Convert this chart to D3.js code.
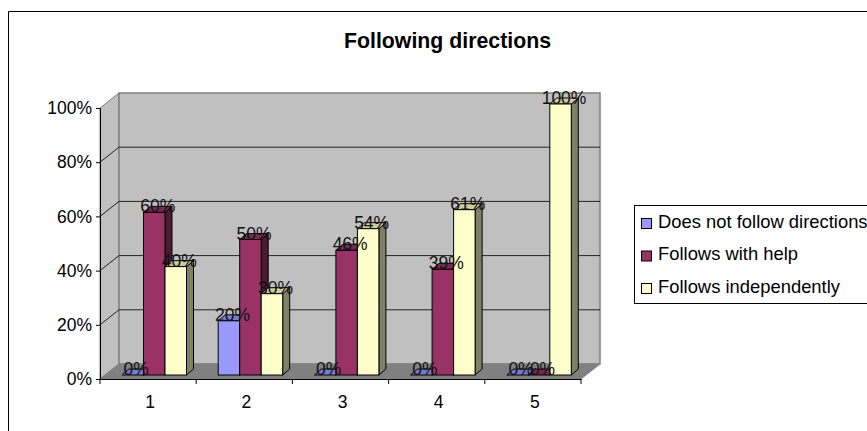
<!DOCTYPE html>
<html>
<head>
<meta charset="utf-8">
<script src="https://cdn.jsdelivr.net/npm/d3@7"></script>
<style>
  html, body { margin: 0; padding: 0; background: #fff; overflow: hidden; }
  svg { display: block; }
  text { font-family: "Liberation Sans", Arial, sans-serif; fill: #000; }
</style>
</head>
<body>
<div id="chart"></div>
<script>
var categories = ['1', '2', '3', '4', '5'];
var seriesNames = ['Does not follow directions', 'Follows with help', 'Follows independently'];
var notFollow = [0, 20, 0, 0, 0];
var withHelp = [60, 50, 46, 39, 0];
var independently = [40, 30, 54, 61, 100];
var yTicks = [0, 20, 40, 60, 80, 100];

var front = ['#9999ff', '#993366', '#ffffcc'];
var topFace = ['#7a7acc', '#7a2952', '#cccca3'];
var sideFace = ['#4d4d80', '#4d1a33', '#808066'];
var series = [notFollow, withHelp, independently];

var width = 867, height = 431;
var wallDx = 19, wallDy = -15;   // depth of the whole box
var barDx = 7, barDy = -6;       // depth of one bar
var inY = -4;                    // how far bars sit back from the floor edge
var barW = 21.5;
var tickFont = '17.5px';

var svg = d3.select('#chart').append('svg')
  .attr('width', width)
  .attr('height', height);

var x = d3.scaleBand().domain(categories).range([100, 581]);
var y = d3.scaleLinear().domain([0, 100]).range([379, 108]);

var poly = function(pts, fill, stroke, sw) {
  return svg.append('polygon')
    .attr('points', pts.map(function(p) { return p.join(','); }).join(' '))
    .attr('fill', fill)
    .attr('stroke', stroke)
    .attr('stroke-width', sw);
};

// outer frame, runs off the right and bottom of the picture
svg.append('path')
  .attr('d', 'M8.5,' + (height + 2) + 'V11.5H' + (width + 2))
  .attr('fill', 'none').attr('stroke', '#000').attr('stroke-width', 1);

// title
svg.append('text')
  .attr('x', 447.5).attr('y', 48)
  .attr('text-anchor', 'middle')
  .style('font-size', '21.3px').style('font-weight', 'bold')
  .text('Following directions');

// walls and floor
var x0 = x.range()[0], x1 = x.range()[1];
var yB = y(0), yT = y(100);
poly([[x0, yB], [x0 + wallDx, yB + wallDy], [x0 + wallDx, yT + wallDy], [x0, yT]], '#c0c0c0', '#808080', 1);
poly([[x0 + wallDx, yB + wallDy], [x1 + wallDx, yB + wallDy], [x1 + wallDx, yT + wallDy], [x0 + wallDx, yT + wallDy]], '#c0c0c0', '#808080', 1.5);
poly([[x0, yB], [x1, yB], [x1 + wallDx, yB + wallDy], [x0 + wallDx, yB + wallDy]], '#808080', '#808080', 1);

// gridlines on both walls
svg.append('g').selectAll('path')
  .data(yTicks.filter(function(d) { return d > 0 && d < 100; }))
  .enter().append('path')
  .attr('d', function(d) {
    return 'M' + x0 + ',' + y(d) + 'L' + (x0 + wallDx) + ',' + (y(d) + wallDy) + 'H' + (x1 + wallDx);
  })
  .attr('fill', 'none').attr('stroke', '#222').attr('stroke-width', 1);

// axes
var yAxis = d3.axisLeft(y)
  .tickValues(yTicks)
  .tickFormat(function(d) { return d + '%'; })
  .tickSize(4).tickPadding(4);
var gy = svg.append('g').attr('transform', 'translate(' + x0 + ',0)').call(yAxis);
gy.selectAll('text').style('font-size', tickFont).style('font-family', '"Liberation Sans", Arial, sans-serif');

var xAxis = d3.axisBottom(x).tickSize(0).tickPadding(17);
var gx = svg.append('g').attr('transform', 'translate(2,' + yB + ')').call(xAxis);
gx.selectAll('text').style('font-size', tickFont).style('font-family', '"Liberation Sans", Arial, sans-serif');
gx.selectAll('.boundary').data(d3.range(categories.length + 1)).enter().append('line')
  .attr('x1', function(i) { return x0 - 2 + i * x.bandwidth(); })
  .attr('x2', function(i) { return x0 - 2 + i * x.bandwidth(); })
  .attr('y1', 0).attr('y2', 5)
  .attr('stroke', '#000');
gx.select('.domain').attr('transform', 'translate(-2,0)');
gx.selectAll('.domain, .tick line').attr('stroke', '#000');
gy.selectAll('.domain, .tick line').attr('stroke', '#000');

// bars, left to right so the next bar hides the side of the one before
var barLeft = function(c, s) {
  return x(categories[c]) + 22 + s * barW;
};
var base = yB + inY;
var labels = [];
categories.forEach(function(cat, c) {
  series.forEach(function(vals, s) {
    var v = vals[c];
    var l = barLeft(c, s), r = l + barW;
    var t = y(v) + inY;
    poly([[r, base], [r + barDx, base + barDy], [r + barDx, t + barDy], [r, t]], sideFace[s], '#000', 1);
    poly([[l, t], [r, t], [r + barDx, t + barDy], [l + barDx, t + barDy]], topFace[s], '#000', 1);
    if (v > 0) {
      svg.append('rect')
        .attr('x', l).attr('y', t)
        .attr('width', barW).attr('height', base - t)
        .attr('fill', front[s]).attr('stroke', '#000').attr('stroke-width', 1);
    }
    labels.push({ x: l + barW / 2 + barDx / 2, y: t, text: v + '%' });
  });
});

// data labels go over all the bars
svg.append('g').selectAll('text')
  .data(labels)
  .enter().append('text')
  .attr('x', function(d) { return d.x; })
  .attr('y', function(d) { return d.y; })
  .attr('text-anchor', 'middle')
  .style('font-size', tickFont)
  .style('fill', '#111')
  .text(function(d) { return d.text; });

// legend
svg.append('rect')
  .attr('x', 634.5).attr('y', 205.5)
  .attr('width', 260).attr('height', 98)
  .attr('fill', '#fff').attr('stroke', '#000').attr('stroke-width', 1);

var legend = svg.append('g').selectAll('g')
  .data(seriesNames)
  .enter().append('g')
  .attr('transform', function(d, i) { return 'translate(641.5,' + (218.5 + i * 32.5) + ')'; });
legend.append('rect')
  .attr('width', 10).attr('height', 10)
  .attr('fill', function(d, i) { return front[i]; })
  .attr('stroke', '#000').attr('stroke-width', 1);
legend.append('text')
  .attr('x', 16.5).attr('y', 9)
  .style('font-size', '18.4px')
  .text(function(d) { return d; });
</script>
</body>
</html>
